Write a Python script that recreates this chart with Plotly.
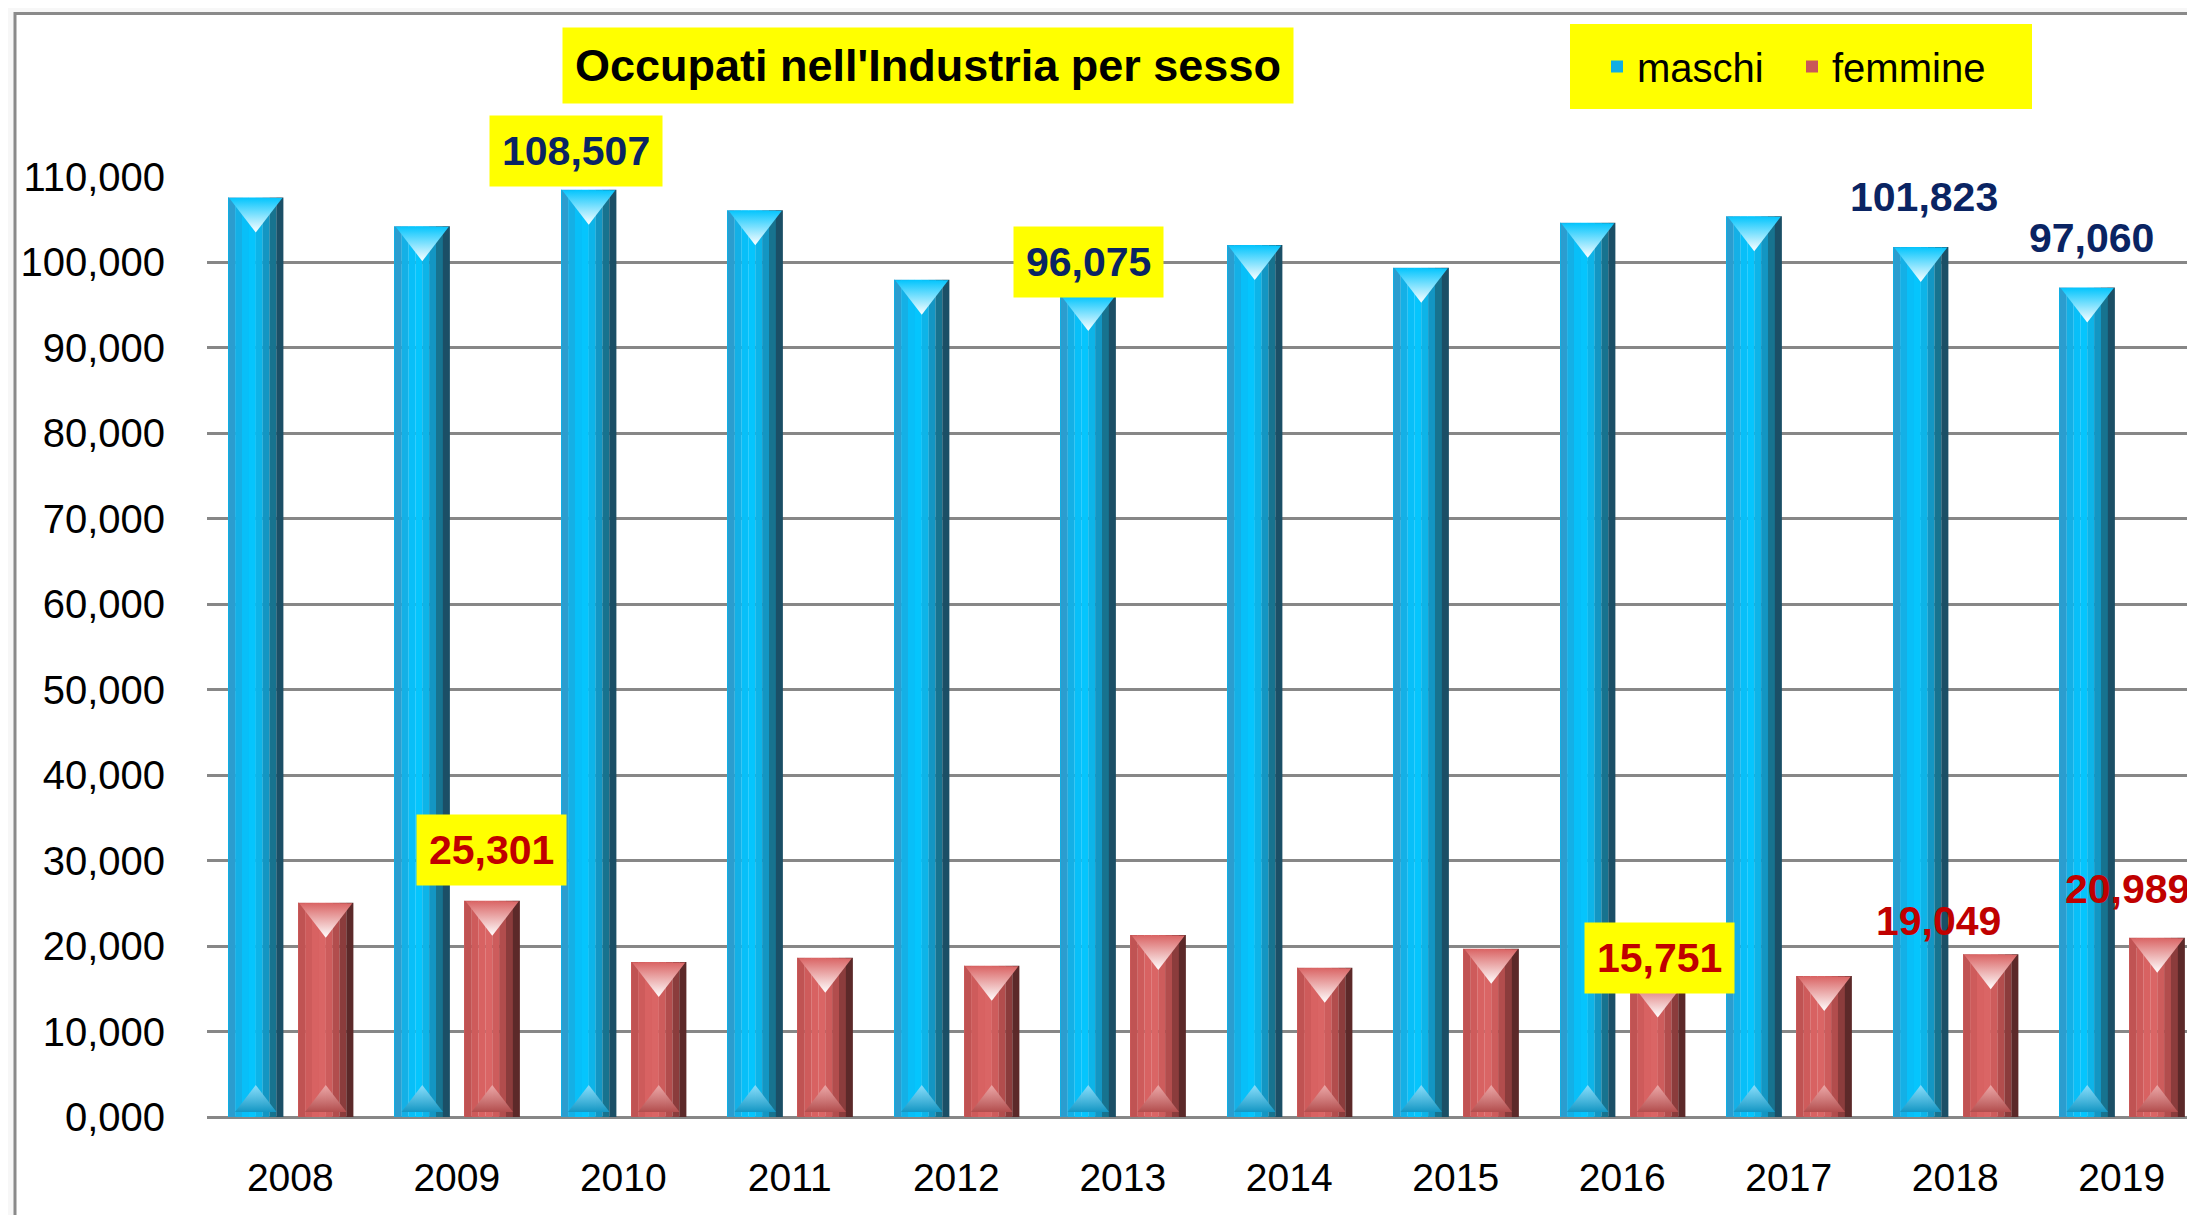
import plotly.graph_objects as go

# ---------------- data ----------------
years = ["2008", "2009", "2010", "2011", "2012", "2013",
         "2014", "2015", "2016", "2017", "2018", "2019"]
maschi = [107600, 104250, 108507, 106120, 97970, 96075,
          102030, 99370, 104640, 105420, 101823, 97060]
femmine = [25070, 25301, 18130, 18640, 17700, 21290,
           17470, 19690, 15751, 16490, 19049, 20989]
ytick_values = [0, 10000, 20000, 30000, 40000, 50000, 60000,
                70000, 80000, 90000, 100000, 110000]
ytick_labels = ["0,000", "10,000", "20,000", "30,000", "40,000", "50,000",
                "60,000", "70,000", "80,000", "90,000", "100,000", "110,000"]
title_text = "Occupati nell'Industria per sesso"
series_names = ["maschi", "femmine"]

# ---------------- layout constants ----------------
PAGE_OFF = 8                      # default body margin of the html page
W, H = 2195 - PAGE_OFF, 1215 - PAGE_OFF
ML, MR, MT, MB = 207 - PAGE_OFF, 0, 177 - PAGE_OFF, 98
PLOT_W = W - ML - MR
PLOT_H = H - MT - MB
XR = [-0.5, 11.44]
YR = [0, 110000]
PX_X = PLOT_W / (XR[1] - XR[0])          # px per category
PX_Y = PLOT_H / (YR[1] - YR[0])          # px per unit value


def px_to_paper_x(page_x):
    return (page_x - PAGE_OFF - ML) / PLOT_W


def px_to_paper_y(page_y):
    return (H - MB - (page_y - PAGE_OFF)) / PLOT_H


FONT = "Liberation Sans, Arial, sans-serif"
NAVY = "#0a2463"
RED = "#c00000"
YELLOW = "#ffff00"

BAR_W = 55 / PX_X
OFF_M = -62 / PX_X
OFF_F = 8 / PX_X

male_strips = ["#2b9dcf", "#14b0e6", "#08bff8", "#05c5fd",
               "#0db4e8", "#1396c3", "#17738f", "#1b4f66"]
female_strips = ["#c05353", "#ce5b5b", "#d86262", "#da6565",
                 "#cd5c5c", "#b24d4d", "#8b3c3c", "#5c2929"]

idx = list(range(len(years)))
fig = go.Figure()


def add_bar(values, name, strips, off, legend_color, bottom_color):
    n = len(strips)
    sw = BAR_W / n
    for k, col in enumerate(strips):
        fig.add_trace(go.Bar(
            x=idx, y=values, name=name,
            width=sw * 1.02, offset=off + k * sw,
            marker=dict(color=col, line=dict(width=0)),
            showlegend=False, hoverinfo="skip"))
    # legend entry
    fig.add_trace(go.Bar(
        x=idx, y=values, name=name, width=0.0001, offset=off,
        marker=dict(color=legend_color, line=dict(width=0)),
        showlegend=True, hoverinfo="skip"))
    cx = [i + off + BAR_W / 2 for i in idx]
    # top bevel triangle
    tsize = 46
    fig.add_trace(go.Scatter(
        x=cx, y=[v - (tsize / 4) / PX_Y - 0.5 / PX_Y for v in values],
        mode="markers", showlegend=False, hoverinfo="skip",
        marker=dict(symbol="triangle-down", size=tsize,
                    color=strips[3], line=dict(width=0),
                    gradient=dict(type="vertical", color="#ffffff"))))
    # bottom bevel triangle
    bsize = 36
    fig.add_trace(go.Scatter(
        x=cx, y=[(bsize / 4 + 5) / PX_Y for _ in values],
        mode="markers", showlegend=False, hoverinfo="skip",
        marker=dict(symbol="triangle-up", size=bsize,
                    color=bottom_color, line=dict(width=0),
                    gradient=dict(type="vertical", color=strips[5]))))


add_bar(maschi, series_names[0], male_strips, OFF_M, "#10aee4",
        "rgba(150,225,252,0.9)")
add_bar(femmine, series_names[1], female_strips, OFF_F, "#c95858",
        "rgba(238,175,175,0.9)")

# ---------------- data labels ----------------
# year -> (xshift px, yshift px, boxed)
male_label_style = {"2010": (-47, 39, True), "2013": (-34, 34, True),
                    "2018": (-31, 50, False), "2019": (-30, 50, False)}
female_label_style = {"2009": (35, 51, True), "2016": (37, 24, True),
                      "2018": (-17, 33, False), "2019": (6, 49, False)}

annotations = []
for series, style, color in ((maschi, male_label_style, NAVY),
                             (femmine, female_label_style, RED)):
    for yr, (xs, ys, boxed) in style.items():
        i = years.index(yr)
        annotations.append(dict(
            x=i, y=series[i], xref="x", yref="y",
            text="<b>{:,}</b>".format(series[i]),
            showarrow=False, xanchor="center", yanchor="middle",
            xshift=xs, yshift=ys,
            font=dict(family=FONT, size=41, color=color),
            bgcolor=YELLOW if boxed else "rgba(0,0,0,0)",
            borderpad=12))

# title
annotations.append(dict(
    x=px_to_paper_x(927.5), y=px_to_paper_y(65.5),
    xref="paper", yref="paper", xanchor="center", yanchor="middle",
    text="<b>" + title_text + "</b>", showarrow=False,
    font=dict(family=FONT, size=45, color="#000000"),
    bgcolor=YELLOW, borderpad=12))

shapes = [
    # chart-area frame
    dict(type="rect", xref="paper", yref="paper", layer="below",
         x0=px_to_paper_x(15), x1=1.05,
         y0=-0.2, y1=px_to_paper_y(13.5),
         fillcolor="#ffffff", line=dict(color="#8a8a8a", width=3)),
    # legend yellow box
    dict(type="rect", xref="paper", yref="paper", layer="below",
         x0=px_to_paper_x(1570), x1=px_to_paper_x(2032),
         y0=px_to_paper_y(109), y1=px_to_paper_y(24),
         fillcolor=YELLOW, line=dict(width=0)),
]

fig.update_layout(
    width=W, height=H, autosize=False,
    margin=dict(l=ML, r=MR, t=MT, b=MB, pad=0),
    paper_bgcolor="#f7f7f7", plot_bgcolor="#ffffff",
    barmode="overlay",
    font=dict(family=FONT, size=40, color="#000000"),
    showlegend=True,
    legend=dict(orientation="h", x=px_to_paper_x(1597), xanchor="left",
                y=px_to_paper_y(66.5), yanchor="middle",
                bgcolor="rgba(0,0,0,0)", font=dict(family=FONT, size=40),
                itemwidth=30, entrywidth=150, entrywidthmode="pixels",
                traceorder="normal"),
    annotations=annotations,
    shapes=shapes,
    xaxis=dict(type="linear", range=XR, tickmode="array", tickvals=idx,
               ticktext=years, showgrid=False, zeroline=False,
               showline=False, ticks="outside", ticklen=26,
               tickcolor="rgba(0,0,0,0)",
               tickfont=dict(family=FONT, size=39, color="#000000")),
    yaxis=dict(range=YR, tickmode="array", tickvals=ytick_values,
               ticktext=ytick_labels, showgrid=True, gridcolor="#878787",
               gridwidth=3, zeroline=True, zerolinecolor="#878787",
               zerolinewidth=3, showline=False, ticks="outside",
               ticklen=33, tickcolor="rgba(0,0,0,0)",
               tickfont=dict(family=FONT, size=40, color="#000000")),
)

fig.write_html("out.html")
